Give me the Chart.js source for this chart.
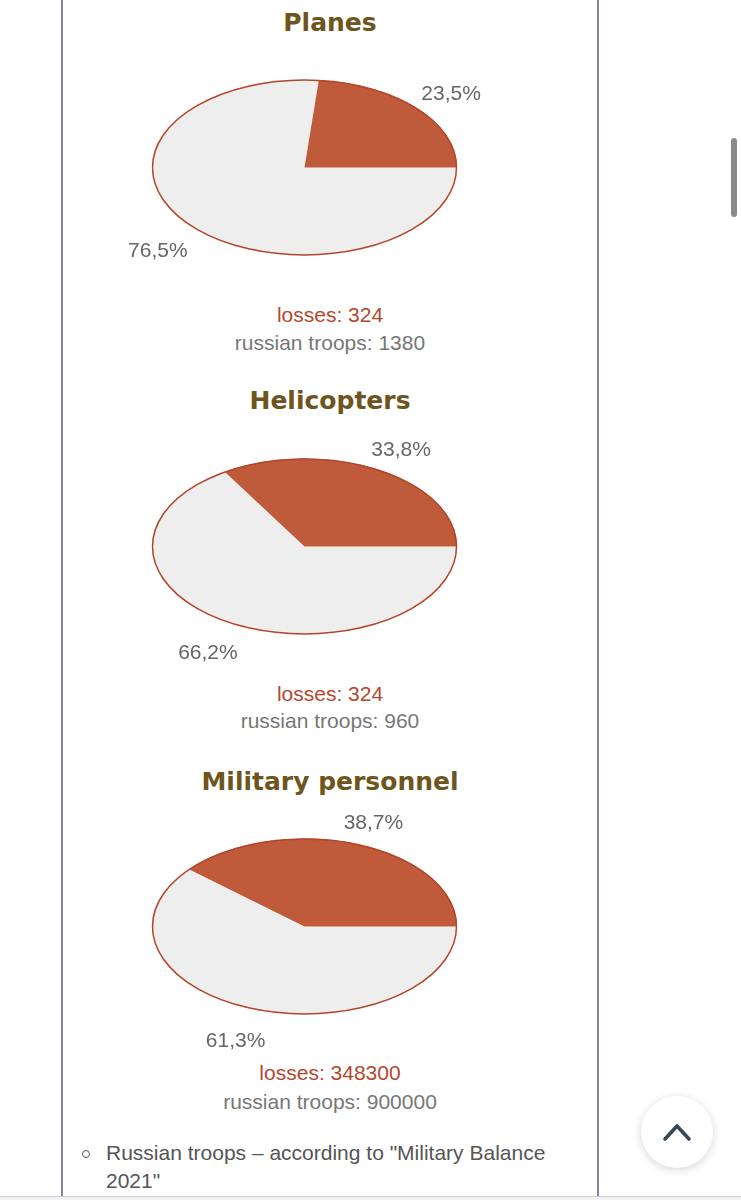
<!DOCTYPE html>
<html>
<head>
<meta charset="utf-8">
<script src="https://cdn.jsdelivr.net/npm/chart.js@4"></script>
<style>
  html, body { margin:0; padding:0; background:#fff; }
  body { width:741px; height:1200px; overflow:hidden; position:relative;
         font-family:"Liberation Sans", Arial, Helvetica, sans-serif; }
  .vline { position:absolute; top:0; height:1196px; width:1.5px; background:#8585a3; }
  .t { position:absolute; left:62px; width:536px; text-align:center; white-space:nowrap; }
  .title { font-family:"DejaVu Sans", Verdana, sans-serif; font-weight:bold; font-size:25px; line-height:34px; color:#6e551d; }
  .loss { font-size:21px; line-height:26px; color:#b5472d; }
  .troops { font-size:21px; line-height:26px; color:#777; }
  canvas.pie { position:absolute; left:62px; pointer-events:none; }
  .scroll { position:absolute; left:731px; top:138px; width:6px; height:79px; border-radius:3px; background:#8a8a8a; }
  .bottom { position:absolute; left:0; top:1196px; width:741px; height:4px; background:#f1f1f1; border-top:1px solid #cfcfcf; }
  .btn { position:absolute; left:641px; top:1096px; width:72px; height:72px; border-radius:50%; background:#fff;
         box-shadow:0 2px 10px rgba(0,0,0,0.16); }
  .bullet { position:absolute; left:82px; top:1150px; width:6px; height:6px; border:1.5px solid #555; border-radius:50%; }
  .note { position:absolute; left:106px; top:1139px; font-size:21px; line-height:28px; color:#555; width:470px; }
</style>
</head>
<body>
<div class="vline" style="left:61px"></div>
<div class="vline" style="left:597px"></div>
<div class="scroll"></div>

<div id="texts"></div>
<canvas class="pie" id="pie0" width="536" height="305"></canvas>
<canvas class="pie" id="pie1" width="536" height="305"></canvas>
<canvas class="pie" id="pie2" width="536" height="305"></canvas>

<div class="bullet"></div>
<div class="note">Russian troops – according to "Military Balance 2021"</div>
<div class="btn">
  <svg width="72" height="72" viewBox="0 0 72 72" style="position:absolute;left:0;top:0">
    <polyline points="24,43 36,30 48,43" fill="none" stroke="#3a4659" stroke-width="3.6" stroke-linecap="round" stroke-linejoin="round"/>
  </svg>
</div>
<div class="bottom"></div>

<script>
// ---- data ----
const titles = ["Planes", "Helicopters", "Military personnel"];
const lossPct = [23.5, 33.8, 38.7];
const restPct = [76.5, 66.2, 61.3];
const losses = [324, 324, 348300];
const troops = [1380, 960, 900000];

// ---- layout (page coordinates) ----
const pieCenterY = [167, 546.5, 926];
const titleY = [22.5, 401, 782];
const lossY = [314.5, 694, 1073];
const troopsY = [343, 721, 1102];

const SQUASH = 0.577;
const RED = '#bf5b3b';
const GRAY = '#eeeeee';
const OUTLINE = '#b4452a';

const texts = document.getElementById('texts');
function addText(cls, txt, cy, lh) {
  const d = document.createElement('div');
  d.className = 't ' + cls;
  d.textContent = txt;
  d.style.top = (cy - lh / 2) + 'px';
  texts.appendChild(d);
}
titles.forEach((t, i) => {
  addText('title', t, titleY[i], 34);
  addText('loss', 'losses: ' + losses[i], lossY[i], 26);
  addText('troops', 'russian troops: ' + troops[i], troopsY[i], 26);
});

const ellipsePlugin = {
  id: 'ellipse',
  beforeDatasetsDraw(chart) {
    const arc = chart.getDatasetMeta(0).data[0];
    const ctx = chart.ctx;
    ctx.save();
    ctx.translate(0, arc.y);
    ctx.scale(1, SQUASH);
    ctx.translate(0, -arc.y);
  },
  afterDatasetsDraw(chart) {
    const ctx = chart.ctx;
    ctx.restore();
    const meta = chart.getDatasetMeta(0);
    const a0 = meta.data[0];
    const cx = a0.x, cy = a0.y, R = a0.outerRadius;
    ctx.save();
    ctx.beginPath();
    ctx.ellipse(cx, cy, R - 0.5, R * SQUASH - 0.5, 0, 0, Math.PI * 2);
    ctx.strokeStyle = OUTLINE;
    ctx.lineWidth = 1.5;
    ctx.stroke();
    ctx.font = '21px "Liberation Sans", Arial, sans-serif';
    ctx.fillStyle = '#666';
    ctx.textAlign = 'center';
    ctx.textBaseline = 'middle';
    meta.data.forEach((a, i) => {
      const mid = (a.startAngle + a.endAngle) / 2;
      const s = Math.sin(mid);
      const x = cx + R * 1.3 * Math.cos(mid);
      const y = cy + R * SQUASH * 1.3 * s + (s > 0 ? 7 : 4);
      const v = chart.data.datasets[0].data[i];
      ctx.fillText(v.toFixed(1).replace('.', ',') + '%', x, y);
    });
    ctx.restore();
  }
};

titles.forEach((t, i) => {
  const cv = document.getElementById('pie' + i);
  cv.style.top = (pieCenterY[i] - 152.5) + 'px';
  cv.style.width = '536px';
  cv.style.height = '305px';
  new Chart(cv, {
    type: 'pie',
    data: {
      labels: ['russian troops', 'losses'],
      datasets: [{
        data: [restPct[i], lossPct[i]],
        backgroundColor: [GRAY, RED],
        borderWidth: 0,
        hoverOffset: 0,
        offset: 0
      }]
    },
    options: {
      responsive: false,
      animation: false,
      events: [],
      rotation: 90,
      layout: { padding: { left: 0, right: 51, top: 0, bottom: 0 } },
      plugins: { legend: { display: false }, tooltip: { enabled: false } }
    },
    plugins: [ellipsePlugin]
  });
});
</script>
</body>
</html>
